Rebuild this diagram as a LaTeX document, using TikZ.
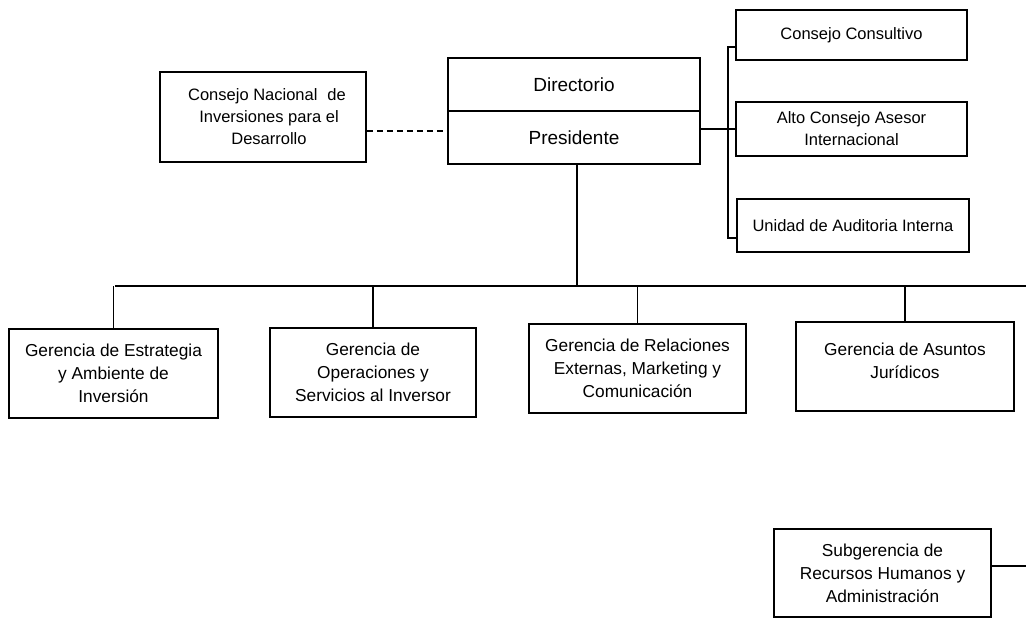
\documentclass[tikz,border=0pt]{standalone}
\usepackage{fontspec}
\setmainfont{Liberation Sans}
\begin{document}
\begin{tikzpicture}[x=1pt,y=-1pt,
  box/.style={draw=black, line width=1.6pt, inner sep=0pt, align=center, font=\fontsize{16.5}{22}\selectfont},
  gbox/.style={draw=black, line width=1.6pt, inner sep=0pt, align=center, font=\fontsize{17.3}{23}\selectfont},
  bigbox/.style={draw=black, line width=1.6pt, inner sep=0pt, align=center, font=\fontsize{19}{22}\selectfont},
  conn/.style={draw=black, line width=1.4pt},
  dconn/.style={draw=black, line width=1.6pt, dash pattern=on 6pt off 4pt}]
\useasboundingbox (0,0) rectangle (1026,618);
\fill[white] (0,0) rectangle (1026,618);

% top level
\node[box, minimum width=206pt, minimum height=90pt] (cn) at (263,117)
  {\hspace*{8pt}Consejo Nacional\hspace{10pt}de\\\hspace*{12pt}Inversiones para el\\\hspace*{12pt}Desarrollo};
\node[bigbox, minimum width=252pt, minimum height=53pt] (dir) at (574,84.5) {Directorio};
\node[bigbox, minimum width=252pt, minimum height=53pt] (pres) at (574,137.5) {Presidente};

% advisory
\node[box, minimum width=231pt, minimum height=50pt] (cc) at (851.5,35) {Consejo Consultivo};
\node[box, minimum width=231pt, minimum height=54pt] (ac) at (851.5,129) {Alto Consejo Asesor\\Internacional};
\node[box, minimum width=232pt, minimum height=53pt] (ua) at (853,225.5) {Unidad de Auditoria Interna};

% gerencias
\node[gbox, minimum width=209pt, minimum height=89pt] (g1) at (113.5,373.5) {Gerencia de Estrategia\\y Ambiente de\\Inversión};
\node[gbox, minimum width=206pt, minimum height=89pt] (g2) at (373,372.5) {Gerencia de\\Operaciones y\\Servicios al Inversor};
\node[gbox, minimum width=217pt, minimum height=89pt] (g3) at (637.5,368.5) {Gerencia de Relaciones\\Externas, Marketing y\\Comunicación};
\node[gbox, minimum width=218pt, minimum height=89pt] (g4) at (905,366.5) {Gerencia de Asuntos\\Jurídicos\\[-11pt]};

% subgerencia
\node[gbox, minimum width=217pt, minimum height=88pt] (sg) at (882.5,573) {Subgerencia de\\Recursos Humanos y\\Administración};

% connectors
\draw[dconn] ([yshift=-14pt]cn.east) -- ([yshift=-14pt]cn.east -| pres.west);
\draw[conn] (ac.west -| pres.east) -- (ac.west);
\coordinate (bt) at (728,47);
\coordinate (bb) at (728,238);
\draw[conn] (bt -| cc.west) -- (bt) -- (bb) -- (bb -| ua.west);

\coordinate (busL) at (115,286);
\coordinate (busR) at (1026,286);
\draw[conn] ([xshift=3pt]pres.south) -- ([xshift=3pt]pres.south |- busL);
\draw[conn, line width=1.6pt] (busL) -- (busR);
\draw[conn] (g1.north) -- (g1.north |- busL);
\draw[conn] (g2.north) -- (g2.north |- busL);
\draw[conn] (g3.north) -- (g3.north |- busL);
\draw[conn] (g4.north) -- (g4.north |- busL);

\coordinate (sgR) at (1026,566);
\draw[conn] (sgR -| sg.east) -- (sgR);
\end{tikzpicture}
\end{document}
